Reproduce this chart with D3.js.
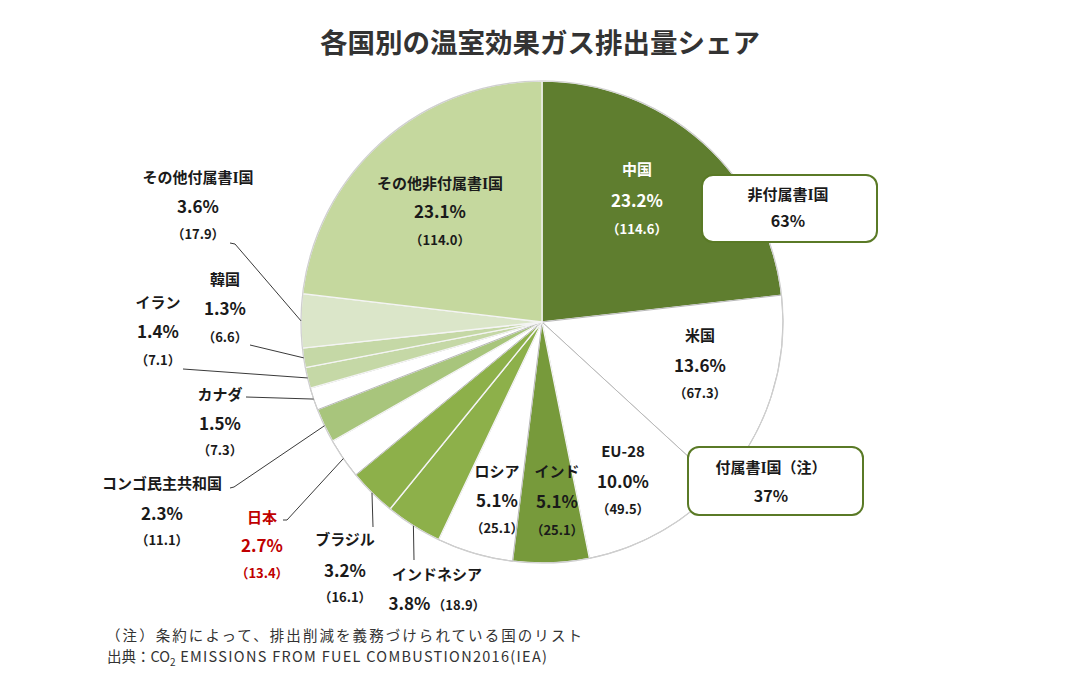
<!DOCTYPE html>
<html><head><meta charset="utf-8">
<script src="https://cdn.jsdelivr.net/npm/d3@7"></script>
<style>
html,body{margin:0;padding:0;background:#fff;}
svg{display:block;font-family:"Noto Sans CJK JP","Noto Sans",sans-serif;}
</style></head>
<body>
<svg id="chart" width="1077" height="684"></svg>
<script>
// ---- data ----
const names  = ["中国","米国","EU-28","インド","ロシア","インドネシア","ブラジル","日本","コンゴ民主共和国","カナダ","イラン","韓国","その他付属書I国","その他非付属書I国"];
const shares = [23.2,13.6,10.0,5.1,5.1,3.8,3.2,2.7,2.3,1.5,1.4,1.3,3.6,23.1];
const amounts= ["114.6","67.3","49.5","25.1","25.1","18.9","16.1","13.4","11.1","7.3","7.1","6.6","17.9","114.0"];
const groupNames  = ["非付属書I国","付属書I国（注）"];
const groupShares = ["63%","37%"];
const title = "各国別の温室効果ガス排出量シェア";
const notes = ["（注）条約によって、排出削減を義務づけられている国のリスト"];

// ---- styles ----
const fills = ["#5f7e2f","#ffffff","#ffffff","#779a3b","#ffffff","#8db04a","#8db04a","#ffffff","#a8c57c","#ffffff","#c5d8a6","#c5d8a6","#dbe6c9","#c5d89e"];
const cx = 542, cy = 322, R = 241;

// label layout: [x, nameBaseline, pctBaseline, valBaseline, leaderStart or null, color]
const layout = {
  "中国":[637,175,207,234,null,"#ffffff"],
  "米国":[700,341,372,398,null,"#1a1a1a"],
  "EU-28":[623,457,488,514,null,"#1a1a1a"],
  "インド":[557,477,508,535,null,"#1a1a1a"],
  "ロシア":[497,477,507,533,null,"#1a1a1a"],
  "インドネシア":[437,580,610,null,[[414,560]],"#1a1a1a"],
  "ブラジル":[345,545,577,602,[[373,527]],"#1a1a1a"],
  "日本":[262,523,552,578,[[283,520],[287,520]],"#c00000"],
  "コンゴ民主共和国":[162,489,520,545,[[230,488],[234,487]],"#1a1a1a"],
  "カナダ":[220,400,430,455,[[246,397]],"#1a1a1a"],
  "イラン":[158,308,338,365,[[183,369]],"#1a1a1a"],
  "韓国":[225,285,315,342,[[250,345]],"#1a1a1a"],
  "その他付属書I国":[198,183,213,239,[[230,243],[235,244]],"#1a1a1a"],
  "その他非付属書I国":[440,189,218,245,null,"#1a1a1a"]
};

const svg = d3.select("#chart");

// writes a name, drawing the Roman "I" in a serif face like the original
function writeName(sel, str){
  const parts = str.split("I");
  parts.forEach((p,i)=>{
    if(i>0) sel.append("tspan").attr("font-family","'Liberation Serif',serif").attr("font-size","1.05em").text("I");
    if(p) sel.append("tspan").text(p);
  });
}

// title
svg.append("text").attr("x",540).attr("y",53).attr("text-anchor","middle")
  .attr("font-size",27.5).attr("font-weight",700).attr("fill","#333").text(title);

const data = names.map((n,i)=>({name:n, share:shares[i], amount:amounts[i], fill:fills[i]}));
const pie = d3.pie().value(d=>d.share).sort(null);
const arcs = pie(data);
const arc = d3.arc().innerRadius(0).outerRadius(R);
const edge = d3.arc().innerRadius(R).outerRadius(R);

const g = svg.append("g").attr("transform",`translate(${cx},${cy})`);
g.selectAll("path.slice").data(arcs).enter().append("path")
  .attr("class","slice").attr("d",arc)
  .attr("fill",d=>d.data.fill)
  .attr("stroke",d=>d.data.fill==="#ffffff"?"#b8b8b8":"#f4f4f4")
  .attr("stroke-width",d=>d.data.fill==="#ffffff"?1:1.3);
// outer rim
g.append("circle").attr("r",R).attr("fill","none").attr("stroke","#cfcfcf").attr("stroke-width",1.2);

// leader lines
arcs.forEach(a=>{
  const L = layout[a.data.name];
  if(!L[4]) return;
  const p = edge.centroid(a);
  const pts = L[4].concat([[p[0]+cx, p[1]+cy]]);
  svg.append("path").attr("d",d3.line()(pts)).attr("fill","none")
    .attr("stroke","#3a3a3a").attr("stroke-width",1);
});

// labels
arcs.forEach(a=>{
  const d = a.data, L = layout[d.name];
  const t = svg.append("g").attr("fill",L[5]).attr("font-weight",700).attr("text-anchor","middle");
  writeName(t.append("text").attr("x",L[0]).attr("y",L[1]).attr("font-size",15), d.name);
  if(L[3]===null){
    const tt = t.append("text").attr("x",L[0]).attr("y",L[2]);
    tt.append("tspan").attr("font-size",17).text(d.share.toFixed(1)+"%");
    tt.append("tspan").attr("font-size",13).attr("dx",2).text("（"+d.amount+"）");
  } else {
    t.append("text").attr("x",L[0]).attr("y",L[2]).attr("font-size",17).text(d.share.toFixed(1)+"%");
    t.append("text").attr("x",L[0]).attr("y",L[3]).attr("font-size",13).text("（"+d.amount+"）");
  }
});

// group boxes
const boxes = [
  {x:702,y:175,w:175,h:67,tx:788,ty1:200,ty2:227},
  {x:688,y:447,w:175,h:68,tx:771,ty1:473,ty2:502}
];
boxes.forEach((b,i)=>{
  svg.append("rect").attr("x",b.x).attr("y",b.y).attr("width",b.w).attr("height",b.h)
    .attr("rx",11).attr("fill","#fff").attr("stroke","#5a7a26").attr("stroke-width",2);
  writeName(svg.append("text").attr("x",b.tx).attr("y",b.ty1).attr("text-anchor","middle")
    .attr("font-size",15).attr("font-weight",700).attr("fill","#1a1a1a"), groupNames[i]);
  svg.append("text").attr("x",b.tx).attr("y",b.ty2).attr("text-anchor","middle")
    .attr("font-size",16).attr("font-weight",700).attr("fill","#1a1a1a").text(groupShares[i]);
});

// notes
svg.append("text").attr("x",106).attr("y",641).attr("font-size",14.5).attr("fill","#333")
  .attr("textLength",476).attr("lengthAdjust","spacing").text(notes[0]);
const src = svg.append("text").attr("x",107).attr("y",662).attr("font-size",14.5).attr("fill","#333");
src.append("tspan").text("出典：CO");
src.append("tspan").attr("font-size",10).attr("dy",4).text("2");
src.append("tspan").attr("dy",-4).attr("letter-spacing",1.3).text(" EMISSIONS FROM FUEL COMBUSTION2016(IEA)");
</script>
</body></html>
